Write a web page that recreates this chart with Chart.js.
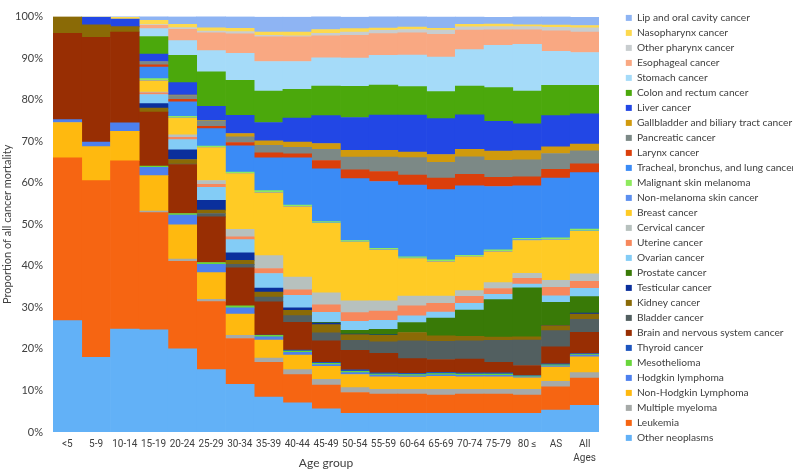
<!DOCTYPE html>
<html>
<head>
<meta charset="utf-8">
<script src="https://cdn.jsdelivr.net/npm/chart.js@4.4.1/dist/chart.umd.min.js"></script>
<style>
  html, body { margin: 0; padding: 0; background: #fff; }
  #wrap { width: 793px; height: 471px; position: relative; }
</style>
</head>
<body>
<div id="wrap"><canvas id="chart"></canvas></div>
<script>
// --- Data (share of all cancer deaths, %) ---
const ageGroups = ['<5', '5-9', '10-14', '15-19', '20-24', '25-29', '30-34', '35-39', '40-44', '45-49',
  '50-54', '55-59', '60-64', '65-69', '70-74', '75-79', '80 \u2264', 'AS', ['All', 'Ages']];

const otherNeoplasms = [26.8, 18.0, 24.8, 24.6, 20.0, 15.0, 11.5, 8.4, 7.0, 5.6, 4.5, 4.5, 4.5, 4.5, 4.5, 4.5, 4.5, 5.3, 6.4];
const leukemia       = [39.2, 42.5, 40.5, 28.2, 21.1, 16.4, 11.0, 8.4, 6.8, 5.7, 5.0, 4.6, 4.6, 4.4, 4.6, 4.6, 4.4, 5.6, 6.6];
const myeloma        = [0, 0, 0, 0.4, 0.5, 0.55, 0.8, 1.0, 1.2, 1.4, 1.2, 1.2, 1.2, 1.4, 1.2, 1.2, 1.4, 1.3, 1.3];
const nonHodgkin     = [8.5, 8.2, 7.1, 8.5, 8.3, 6.4, 5.1, 4.3, 3.5, 3.1, 3.15, 3.0, 2.9, 3.1, 3.0, 3.0, 2.75, 3.4, 3.8];
const hodgkin        = [0.7, 1.1, 2.0, 2.0, 2.3, 2.0, 1.5, 0.8, 0.7, 0.45, 0.45, 0.4, 0.35, 0.35, 0.35, 0.35, 0.25, 0.35, 0.35];
const mesothelioma   = [0, 0, 0, 0.3, 0.4, 0.45, 0.45, 0.35, 0.3, 0.3, 0.3, 0.25, 0.3, 0.3, 0.3, 0.3, 0.15, 0.2, 0.2];
const thyroid        = [0, 0, 0, 0, 0, 0, 0, 0.1, 0.2, 0.2, 0.35, 0.3, 0.3, 0.3, 0.3, 0.3, 0.15, 0.25, 0.25];
const brain          = [20.8, 25.2, 21.9, 13.0, 11.8, 11.0, 9.2, 8.0, 6.7, 5.2, 4.7, 4.7, 3.5, 3.1, 3.3, 2.5, 2.4, 4.1, 5.1];
const bladder        = [0, 0, 0, 0, 0.1, 0.8, 0.8, 1.1, 1.6, 1.9, 2.4, 2.75, 4.3, 4.4, 4.4, 5.3, 6.1, 3.9, 3.1];
const kidney         = [4.0, 3.0, 1.3, 0.95, 1.1, 0.8, 1.0, 1.25, 1.3, 2.0, 1.4, 1.6, 2.0, 1.3, 1.1, 0.8, 0.8, 1.2, 1.3];
const testicular     = [0, 0, 0, 1.1, 2.3, 2.4, 1.8, 0.95, 0.6, 0.4, 0.1, 0.1, 0, 0, 0, 0, 0, 0.1, 0.2];
const prostate       = [0, 0, 0, 0, 0, 0, 0, 0, 0, 0.15, 0.9, 1.3, 2.4, 4.3, 6.3, 9.0, 11.8, 5.5, 4.0];
const ovarian        = [0, 0, 0, 2.2, 2.5, 3.1, 3.15, 3.5, 3.0, 2.4, 2.2, 2.2, 1.6, 1.4, 1.6, 1.3, 0.9, 1.6, 2.0];
const uterine        = [0, 0, 0, 0.4, 0.55, 0.7, 0.7, 1.2, 1.3, 1.8, 2.1, 2.2, 2.4, 2.1, 1.7, 1.4, 1.4, 2.0, 1.7];
const cervical       = [0, 0, 0, 0.2, 0.6, 0.95, 1.8, 3.1, 3.1, 2.9, 2.8, 2.5, 2.35, 1.8, 1.4, 1.4, 1.2, 1.7, 1.8];
const breast         = [0, 0, 0, 2.7, 4.0, 7.9, 13.4, 15.1, 16.9, 16.75, 14.15, 12.2, 9.05, 8.2, 8.1, 7.4, 7.9, 9.7, 10.2];
const nonMelanoma    = [0, 0, 0, 0.1, 0.1, 0.1, 0.1, 0.15, 0.1, 0.1, 0.1, 0.1, 0.1, 0.15, 0.1, 0.15, 0.2, 0.15, 0.15];
const melanoma       = [0, 0, 0, 0.4, 0.35, 0.3, 0.3, 0.4, 0.3, 0.3, 0.3, 0.3, 0.3, 0.35, 0.3, 0.35, 0.35, 0.4, 0.4];
const lung           = [0, 0, 0, 2.8, 3.5, 4.2, 6.3, 7.9, 11.4, 12.7, 14.9, 16.1, 17.3, 16.9, 16.7, 15.25, 12.6, 14.4, 13.6];
const larynx         = [0, 0, 0, 0.55, 0.6, 0.55, 0.8, 1.2, 0.95, 2.0, 2.1, 2.4, 2.4, 2.75, 2.8, 2.2, 2.2, 2.1, 2.1];
const pancreatic     = [0, 0, 0, 0.8, 0.9, 1.3, 1.35, 1.8, 1.6, 2.7, 3.1, 3.5, 4.2, 3.8, 4.2, 4.1, 4.1, 3.8, 3.15];
const gallbladder    = [0, 0, 0, 0, 0.1, 0.1, 0.8, 1.1, 1.25, 1.4, 1.6, 1.6, 1.35, 1.9, 1.8, 2.2, 2.2, 1.6, 1.6];
const liver          = [0, 1.8, 1.8, 1.8, 3.0, 3.4, 4.4, 4.4, 5.8, 6.7, 7.9, 8.5, 8.9, 8.65, 8.3, 7.2, 6.45, 7.5, 7.3];
const colon          = [0, 0, 0, 4.2, 6.6, 8.3, 8.4, 7.6, 6.9, 7.1, 7.5, 7.2, 6.85, 6.5, 6.9, 8.1, 7.9, 7.3, 6.85];
const stomach        = [0, 0, 0, 1.9, 3.5, 5.1, 6.5, 7.1, 6.7, 6.8, 6.8, 7.2, 7.6, 8.3, 8.8, 10.2, 11.2, 8.2, 7.9];
const esophageal     = [0, 0, 0, 0.8, 2.75, 4.3, 4.7, 5.9, 5.9, 5.3, 5.5, 5.2, 5.35, 5.5, 4.7, 3.7, 3.5, 4.95, 4.95];
const otherPharynx   = [0, 0, 0, 0.2, 0.4, 0.4, 0.55, 0.4, 0.3, 0.6, 0.8, 0.8, 0.8, 1.0, 0.8, 0.8, 0.8, 0.8, 1.0];
const nasopharynx    = [0, 0.15, 0.4, 1.0, 0.8, 0.8, 0.8, 0.8, 0.9, 0.95, 0.8, 0.55, 0.6, 0.4, 0.6, 0.6, 0.4, 0.55, 0.55];
const lipOral        = [0, 0.1, 0.3, 1.0, 1.85, 2.8, 2.8, 3.6, 3.6, 3.2, 2.8, 2.8, 2.6, 2.8, 1.8, 1.65, 2.0, 2.05, 2.0];

// bottom of the stack first
const series = [
  ['Other neoplasms', otherNeoplasms, '#62b1f7'],
  ['Leukemia', leukemia, '#f66512'],
  ['Multiple myeloma', myeloma, '#a6aaa8'],
  ['Non-Hodgkin Lymphoma', nonHodgkin, '#ffb90f'],
  ['Hodgkin lymphoma', hodgkin, '#4d80ee'],
  ['Mesothelioma', mesothelioma, '#69d63b'],
  ['Thyroid cancer', thyroid, '#1d55bf'],
  ['Brain and nervous system cancer', brain, '#982e03'],
  ['Bladder cancer', bladder, '#525f60'],
  ['Kidney cancer', kidney, '#8a6a06'],
  ['Testicular cancer', testicular, '#0a2f9c'],
  ['Prostate cancer', prostate, '#397a07'],
  ['Ovarian cancer', ovarian, '#83ccf6'],
  ['Uterine cancer', uterine, '#f7885c'],
  ['Cervical cancer', cervical, '#b7c1be'],
  ['Breast cancer', breast, '#ffcb25'],
  ['Non-melanoma skin cancer', nonMelanoma, '#5c8fef'],
  ['Malignant skin melanoma', melanoma, '#8eea5e'],
  ['Tracheal, bronchus, and lung cancer', lung, '#3a8bf6'],
  ['Larynx cancer', larynx, '#db3f0b'],
  ['Pancreatic cancer', pancreatic, '#7c8986'],
  ['Gallbladder and biliary tract cancer', gallbladder, '#d19a0d'],
  ['Liver cancer', liver, '#2247e5'],
  ['Colon and rectum cancer', colon, '#4ba80c'],
  ['Stomach cancer', stomach, '#a5dbf9'],
  ['Esophageal cancer', esophageal, '#f9a882'],
  ['Other pharynx cancer', otherPharynx, '#c8cdcf'],
  ['Nasopharynx cancer', nasopharynx, '#fdd94e'],
  ['Lip and oral cavity cancer', lipOral, '#8eb4f3']
];

const FONT = 'Lato, "Open Sans", sans-serif';
const TICK_FONT = 'Roboto, Lato, sans-serif';
const TEXT_COLOR = '#404040';

// legend sits a bit right of the plot, fixed width so the plot ends where the original does
const legendPlacement = {
  id: 'legendPlacement',
  beforeInit(chart) {
    const fit = chart.legend.fit;
    chart.legend.fit = function () {
      fit.call(this);
      this.width = 194;
    };
  },
  afterLayout(chart) {
    chart.legend.left += 22;
  }
};

new Chart(document.getElementById('chart'), {
  type: 'bar',
  data: {
    labels: ageGroups,
    datasets: series.map(([label, values, color]) => ({
      label: label,
      data: values.map(v => v || null),
      backgroundColor: color,
      borderWidth: 0,
      barPercentage: 1,
      categoryPercentage: 1
    }))
  },
  plugins: [legendPlacement],
  options: {
    responsive: true,
    maintainAspectRatio: false,
    animation: false,
    devicePixelRatio: 1,
    layout: { padding: { top: 8, left: 0, right: 0, bottom: 0 } },
    plugins: {
      tooltip: { enabled: false },
      legend: {
        position: 'right',
        align: 'start',
        reverse: true,
        labels: {
          boxWidth: 6,
          boxHeight: 6,
          padding: 4.8,
          color: TEXT_COLOR,
          font: { family: FONT, size: 10.2 }
        }
      }
    },
    scales: {
      x: {
        stacked: true,
        grid: { display: false, drawTicks: false },
        border: { display: false },
        ticks: {
          color: TEXT_COLOR,
          font: { family: TICK_FONT, size: 10, lineHeight: 1.45 },
          padding: 5,
          maxRotation: 0,
          autoSkip: false
        },
        title: {
          display: true,
          text: 'Age group',
          color: TEXT_COLOR,
          font: { family: FONT, size: 12 },
          padding: { top: 0, bottom: 1 }
        },
        afterFit: (scale) => { scale.height = 39; }
      },
      y: {
        stacked: true,
        min: 0,
        max: 100,
        grid: { display: false, drawTicks: false },
        border: { display: false },
        ticks: {
          stepSize: 10,
          color: TEXT_COLOR,
          font: { family: FONT, size: 11 },
          padding: 10,
          callback: (value) => value + '%'
        },
        title: {
          display: true,
          text: 'Proportion of all cancer mortality',
          color: TEXT_COLOR,
          font: { family: FONT, size: 11 },
          padding: { top: 1, bottom: 0 }
        },
        afterFit: (scale) => { scale.width = 53; }
      }
    }
  }
});
</script>
</body>
</html>
